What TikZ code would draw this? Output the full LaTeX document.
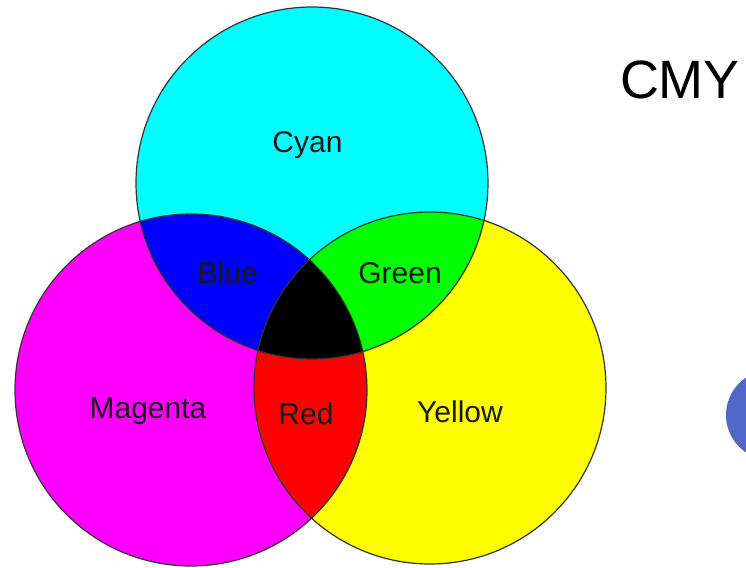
\documentclass[tikz,border=0pt]{standalone}
\usepackage{fontspec}
\setmainfont{Liberation Sans}
\definecolor{dotblue}{RGB}{82,104,200}
\definecolor{pcyan}{RGB}{0,255,255}
\definecolor{pmagenta}{RGB}{255,0,255}
\definecolor{pyellow}{RGB}{255,255,0}
\definecolor{pblue}{RGB}{0,0,255}
\definecolor{pgreen}{RGB}{0,255,0}
\definecolor{pred}{RGB}{255,0,0}

\begin{document}
\begin{tikzpicture}[x=0.5pt,y=-0.5pt,
  ring/.style={draw=black!80,line width=0.6pt},
  lbl/.style={anchor=base,inner sep=0pt,font=\fontsize{15}{18}\selectfont,text=black!90}]
\useasboundingbox (0,0) rectangle (746,568);
\clip (0,0) rectangle (746,568);
\def\rad{176}
\coordinate (c) at (312,183);
\coordinate (m) at (191,390);
\coordinate (y) at (430,388);
% the three primaries
\fill[pcyan] (c) circle (\rad);
\fill[pmagenta] (m) circle (\rad);
\fill[pyellow] (y) circle (\rad);
% overlaps
\begin{scope}
\clip (c) circle (\rad);
\fill[pblue] (m) circle (\rad);
\fill[pgreen] (y) circle (\rad);
\end{scope}
\begin{scope}
\clip (m) circle (\rad);
\fill[pred] (y) circle (\rad);
\clip (c) circle (\rad);
\fill[black] (y) circle (\rad);
\end{scope}
\draw[ring] (c) circle (\rad);
\draw[ring] (m) circle (\rad);
\draw[ring] (y) circle (\rad);
% part of a button at the right edge
\fill[dotblue] (771,415) circle (45);
\node[lbl] (cyanlbl) at (307.5,152) {Cyan};
\node[lbl] (bluelbl) at (228,283) {Blue};
\node[lbl] (greenlbl) at (400,283) {Green};
\node[lbl] (magentalbl) at (148,418) {Magenta};
\node[lbl] (redlbl) at (306,424) {Red};
\node[lbl] (yellowlbl) at (460,422) {Yellow};
\node[inner sep=0pt,font=\fontsize{27}{32}\selectfont] (title) at (680,80) {CMY};
\end{tikzpicture}
\end{document}
